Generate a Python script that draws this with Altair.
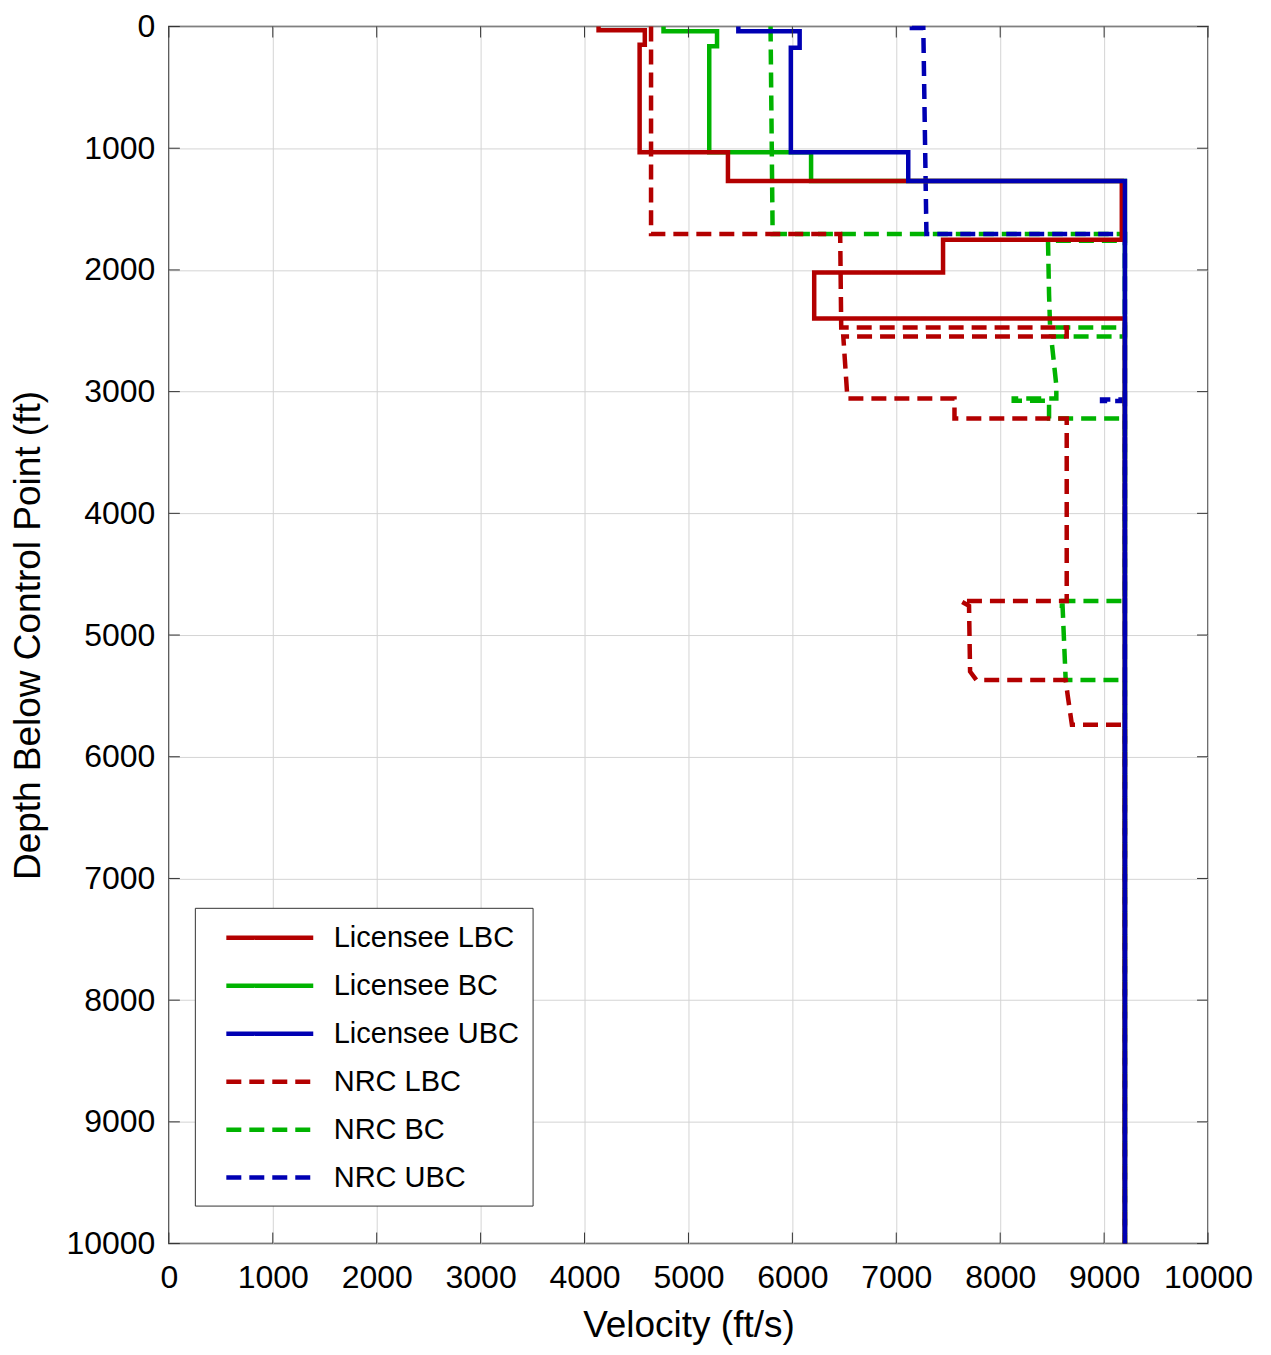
import altair as alt
import pandas as pd

FONT = "Liberation Sans, Arial, Helvetica, sans-serif"

SERIES = ["Licensee LBC", "Licensee BC", "Licensee UBC", "NRC LBC", "NRC BC", "NRC UBC"]
COLORS = ["#B30000", "#00B300", "#0000B3", "#B30000", "#00B300", "#0000B3"]
DASHES = [[1, 0], [1, 0], [1, 0], [15, 8], [15, 8], [15, 8]]

# step profiles: velocity (ft/s) vs depth (ft), vertices in drawing order
lic_lbc_vel   = [4135, 4135, 4580, 4580, 4530, 4530, 5380, 5380, 9170, 9170, 7450, 7450, 6210, 6210, 9200, 9200]
lic_lbc_depth = [0, 30, 30, 150, 150, 1033, 1033, 1270, 1270, 1752, 1752, 2022, 2022, 2399, 2399, 10000]

lic_bc_vel   = [4760, 4760, 5275, 5275, 5200, 5200, 6180, 6180, 9200, 9200]
lic_bc_depth = [0, 38, 38, 162, 162, 1033, 1033, 1270, 1270, 10000]

lic_ubc_vel   = [5480, 5480, 6070, 6070, 5985, 5985, 7115, 7115, 9200, 9200]
lic_ubc_depth = [0, 38, 38, 175, 175, 1033, 1033, 1270, 1270, 10000]

nrc_lbc_vel   = [4640, 4640, 6460, 6470, 8640, 8640, 6490, 6530, 7560, 7560, 8640, 8640,
                 7620, 7700, 7710, 7770, 8630, 8650, 8690, 9200, 9200]
nrc_lbc_depth = [0, 1705, 1705, 2473, 2473, 2547, 2547, 3057, 3057, 3221, 3221, 4721,
                 4721, 4760, 5300, 5369, 5369, 5500, 5738, 5738, 10000]

nrc_bc_vel   = [5790, 5810, 9200, 9200, 8460, 8470, 8480, 9200, 9200, 8490, 8540, 8540,
                8130, 8130, 8470, 8470, 9200, 9200, 8560, 8560, 8600, 8630, 9200, 9200]
nrc_bc_depth = [0, 1705, 1705, 1760, 1760, 2200, 2473, 2473, 2547, 2547, 2950, 3057,
                3057, 3075, 3075, 3221, 3221, 4721, 4721, 4760, 4760, 5369, 5369, 10000]

nrc_ubc_vel   = [7150, 7150, 7260, 7290, 9200, 9200, 8980, 8980, 9200, 9200]
nrc_ubc_depth = [0, 12, 12, 1705, 1705, 3065, 3065, 3078, 3078, 10000]

TICKS = list(range(0, 10001, 1000))

profiles = {
    "Licensee LBC": (lic_lbc_vel, lic_lbc_depth),
    "Licensee BC": (lic_bc_vel, lic_bc_depth),
    "Licensee UBC": (lic_ubc_vel, lic_ubc_depth),
    "NRC LBC": (nrc_lbc_vel, nrc_lbc_depth),
    "NRC BC": (nrc_bc_vel, nrc_bc_depth),
    "NRC UBC": (nrc_ubc_vel, nrc_ubc_depth),
}
rows = []
for name, (vs, ds) in profiles.items():
    for i, (v, d) in enumerate(zip(vs, ds)):
        rows.append({"series": name, "idx": i, "vel": v, "depth": d})
df = pd.DataFrame(rows)
tick_x = pd.DataFrame({"vel": TICKS})
tick_y = pd.DataFrame({"depth": TICKS})

W, H = 1040, 1218

leg = alt.Legend(
    title=None, orient="none", legendX=26, legendY=882,
    symbolType="M-3,0L3,0", symbolSize=841, symbolStrokeWidth=4.5,
    symbolOffset=45, labelOffset=47, rowPadding=16, padding=13,
    labelFontSize=29, labelFont=FONT, labelColor="black", labelLimit=400,
    strokeColor="#333333", fillColor="white",
)

xs = alt.Scale(domain=[0, 10000], nice=False, zero=False)
ys = alt.Scale(domain=[0, 10000], nice=False, zero=False, reverse=True)
xaxis = alt.Axis(values=TICKS, format="d", title="Velocity (ft/s)", labelOverlap=False, labelFlush=False)
yaxis = alt.Axis(values=TICKS, format="d", title="Depth Below Control Point (ft)", labelOverlap=False, labelFlush=False)

base = alt.Chart(df).mark_line(strokeWidth=4.5).encode(
    x=alt.X("vel:Q", scale=xs, axis=xaxis),
    y=alt.Y("depth:Q", scale=ys, axis=yaxis),
    color=alt.Color("series:N", scale=alt.Scale(domain=SERIES, range=COLORS), legend=leg),
    strokeDash=alt.StrokeDash("series:N", scale=alt.Scale(domain=SERIES, range=DASHES), legend=leg),
    order=alt.Order("idx:Q"),
)

draw_order = ["NRC BC", "NRC LBC", "NRC UBC", "Licensee BC", "Licensee LBC", "Licensee UBC"]
lines = [base.transform_filter(alt.datum.series == s) for s in draw_order]

TL = 11
tick_style = dict(color="#333333", strokeWidth=1)
tick_top = alt.Chart(tick_x).mark_rule(**tick_style).encode(
    x=alt.X("vel:Q", scale=xs, axis=xaxis), y=alt.value(0), y2=alt.value(TL))
tick_bot = alt.Chart(tick_x).mark_rule(**tick_style).encode(
    x=alt.X("vel:Q", scale=xs, axis=xaxis), y=alt.value(H - TL), y2=alt.value(H))
tick_left = alt.Chart(tick_y).mark_rule(**tick_style).encode(
    y=alt.Y("depth:Q", scale=ys, axis=yaxis), x=alt.value(0), x2=alt.value(TL))
tick_right = alt.Chart(tick_y).mark_rule(**tick_style).encode(
    y=alt.Y("depth:Q", scale=ys, axis=yaxis), x=alt.value(W - TL), x2=alt.value(W))

chart = alt.layer(*lines, tick_top, tick_bot, tick_left, tick_right).properties(
    width=W, height=H,
    autosize=alt.AutoSizeParams(type="none"),
    padding={"left": 161, "top": 18, "right": 55, "bottom": 104},
).configure_view(
    stroke="#333333", strokeWidth=1.5
).configure_axis(
    grid=True, gridColor="#d4d4d4", gridWidth=1, domain=False, ticks=False,
    labelFont=FONT, titleFont=FONT, labelFontSize=32, titleFontSize=37,
    labelColor="black", titleColor="black", titleFontWeight="normal",
).configure_axisX(
    labelPadding=19, titlePadding=14
).configure_axisY(
    labelPadding=14, titlePadding=18
)

chart.save("out.html", embed_options={"renderer": "svg", "actions": False})
